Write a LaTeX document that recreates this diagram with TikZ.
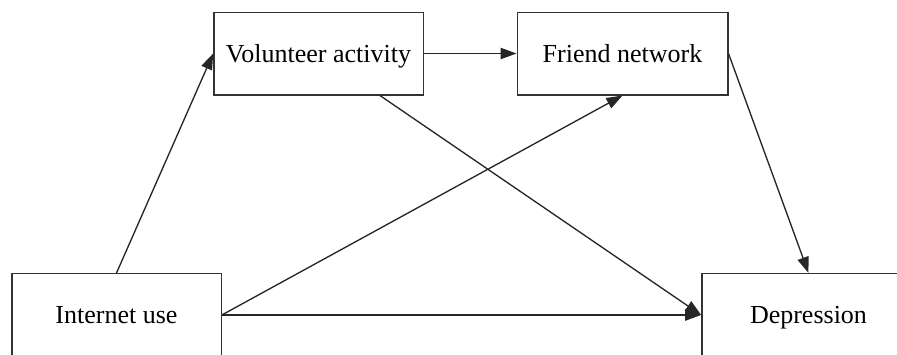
\documentclass[tikz,border=0pt]{standalone}
\usepackage{fontspec}
\setmainfont{Liberation Serif}
\usetikzlibrary{positioning,arrows.meta}

\begin{document}
\begin{tikzpicture}[
        x=0.75pt, y=-0.75pt,
        block/.style={rectangle, draw=black!80, line width=1pt, fill=white,
            minimum width=157pt, minimum height=62pt, inner sep=0pt,
            text height=16pt, text depth=3pt,
            font=\fontsize{19.5}{23}\selectfont},
        line/.style={draw=black!85, line width=1pt,
            -{Triangle[length=12pt, width=8.5pt]}}
    ]
    \useasboundingbox (0,0) rectangle (897,354);
    \clip (0,0) rectangle (897,354);

    \node [block] (vol) at (318.5,53.5) {Volunteer activity};
    \node [block, minimum width=158pt] (friend) at (622.5,53.5) {Friend network};
    \node [block] (inet) at (116.5,315) {Internet use};
    \node [block, minimum width=160pt] (dep) at (808.5,315) {Depression};

    \path [line] (inet.north) -- (vol.west);
    \path [line] (vol) -- (friend);
    \path [line] (vol) -- (dep.west);
    \path [line] (inet.east) -- (friend.south);
    \path [line] (friend.east) -- (dep.north);
    \path [line] (inet) -- (dep);
\end{tikzpicture}
\end{document}
